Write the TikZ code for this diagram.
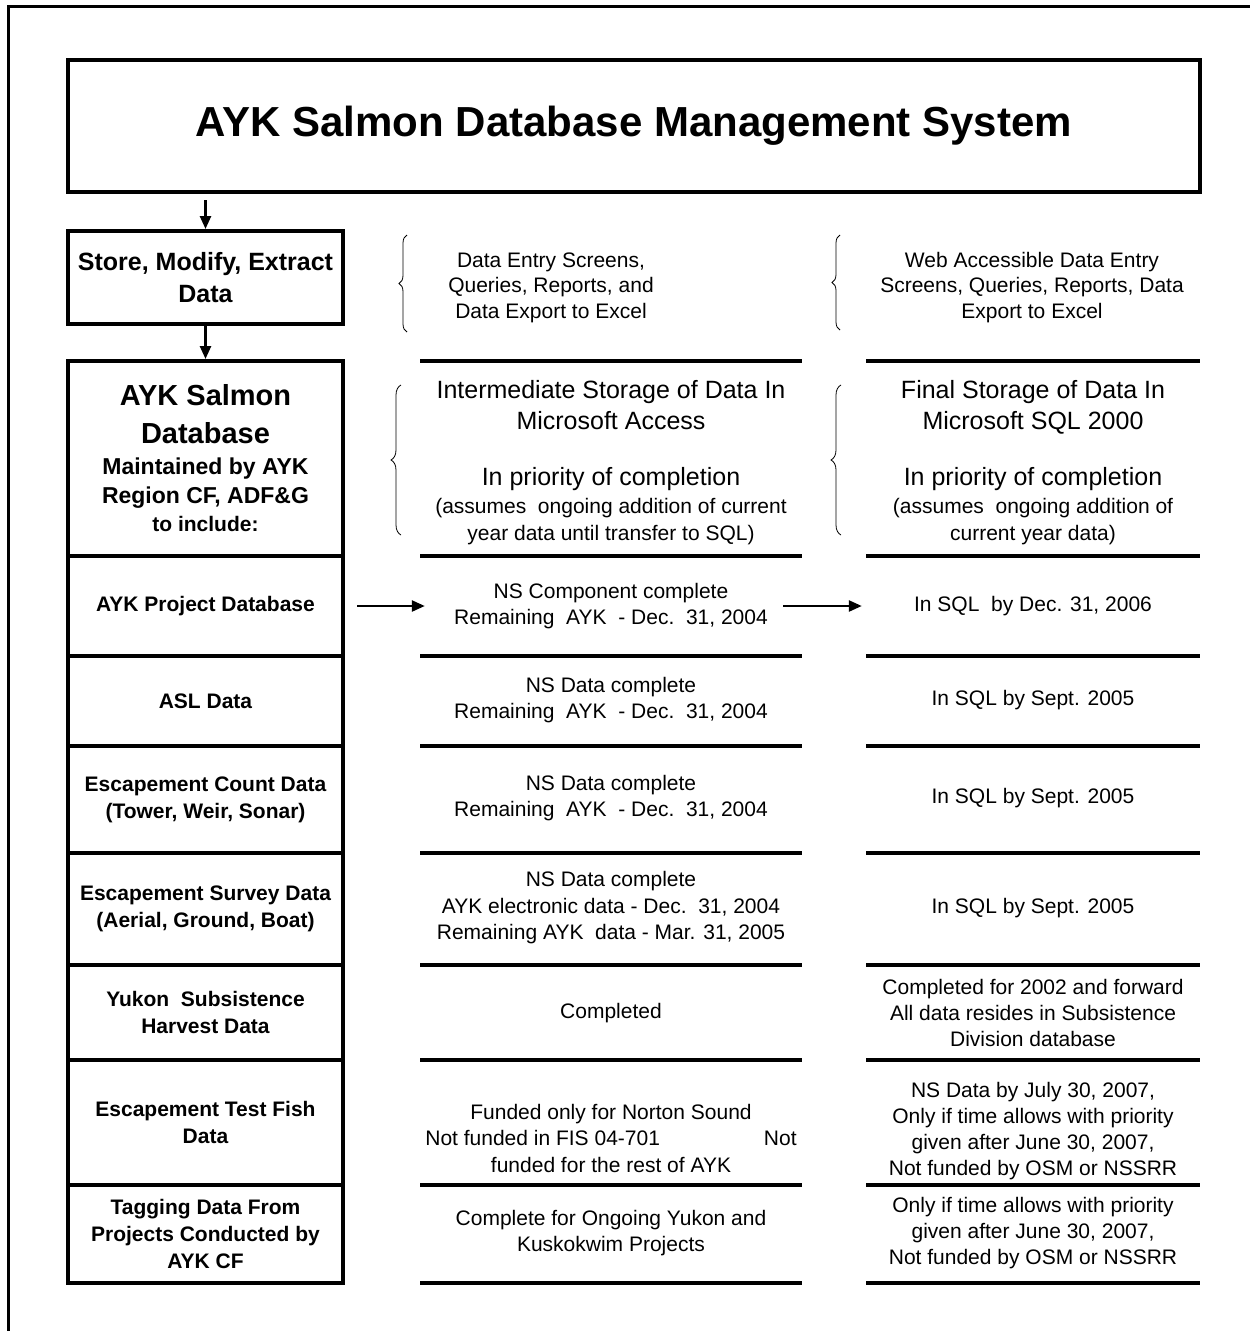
\documentclass[tikz,border=0pt]{standalone}
\usepackage{fontspec}
\setmainfont{Liberation Sans}
\usetikzlibrary{arrows.meta,decorations.pathreplacing}
\newcommand\hugetxt{\fontsize{29}{38}\selectfont}
\newcommand\maintxt{\fontsize{23}{29}\selectfont}
\newcommand\storetxt{\fontsize{25}{31}\selectfont}
\newcommand\notetxt{\fontsize{21}{27.5}\selectfont}

\begin{document}
\begin{tikzpicture}[x=1pt,y=-1pt,every text node part/.style={align=center},
  box/.style={rectangle,draw=black,line width=4pt,inner sep=0pt,minimum width=275pt,font=\bfseries\fontsize{21}{27}\selectfont},
  mid/.style={rectangle,inner sep=0pt,minimum width=382pt,font=\fontsize{21}{26.5}\selectfont},
  fin/.style={rectangle,inner sep=0pt,minimum width=334pt,font=\fontsize{21}{26}\selectfont},
  rule/.style={line width=4pt},
  arr/.style={line width=2.5pt,-{Triangle[length=13pt,width=11pt]}},
  curly/.style={line width=0.8pt,decorate,decoration={brace,amplitude=8pt}}]
  \useasboundingbox (0,0) rectangle (1250,1331);
  \draw[line width=3pt] (8,1345) -- (8,6) -- (1265,6);

  \node[box,minimum width=1132pt,minimum height=132pt,font=\bfseries\fontsize{42}{50}\selectfont] (title) at (634,126) {AYK Salmon Database Management System};
  \node[box,minimum height=93pt,font=\bfseries\fontsize{25}{32}\selectfont] (store) at (205.5,277.5) {Store, Modify, Extract\\Data};
  \node[box,minimum height=195pt] (salmondb) at (205.5,458.5) {\hugetxt AYK Salmon\\[11pt]\hugetxt Database\\[4pt]\maintxt Maintained by AYK\\[2pt]\maintxt Region CF, ADF\&G\\[1pt]to include:};
  \node[box,minimum height=100pt] (projdb) at (205.5,606) {AYK Project Database};
  \node[box,minimum height=90pt] (asl) at (205.5,701) {ASL Data};
  \node[box,minimum height=107pt] (count) at (205.5,799.5) {Escapement Count Data\\(Tower, Weir, Sonar)};
  \node[box,minimum height=112pt] (survey) at (205.5,909) {Escapement Survey Data\\(Aerial, Ground, Boat)};
  \node[box,minimum height=95pt] (yukon) at (205.5,1012.5) {Yukon\ \ Subsistence\\Harvest Data};
  \node[box,minimum height=125pt] (testfish) at (205.5,1122.5) {Escapement Test Fish\\Data};
  \node[box,minimum height=98pt] (tagging) at (205.5,1234) {Tagging Data From\\Projects Conducted by\\AYK CF};

  \node[mid,font=\fontsize{21}{25.5}\selectfont] (accesstools) at (551,287.5) {Data Entry Screens,\\Queries, Reports, and\\Data Export to Excel};
  \node[fin,font=\fontsize{21}{25.5}\selectfont] (webtools) at (1032,287.5) {Web Accessible Data Entry\\Screens, Queries, Reports, Data\\Export to Excel};
  \node[mid] (access) at (611,463) {\storetxt Intermediate Storage of Data In\\[4.5pt]\storetxt Microsoft Access\\[29.5pt]\storetxt In priority of completion\\[1.5pt]\notetxt (assumes\ \ ongoing addition of current\\[0.5pt]\notetxt year data until transfer to SQL)};
  \node[fin] (sqlserver) at (1033,463) {\storetxt Final Storage of Data In\\[5pt]\storetxt Microsoft SQL 2000\\[30pt]\storetxt In priority of completion\\[2pt]\notetxt (assumes\ \ ongoing addition of\\[1pt]\notetxt current year data)};

  \node[mid] (projaccess) at (611,606) {NS Component complete\\Remaining\ \ AYK\ \ - Dec.\ \ 31, 2004};
  \node[fin] (projsql) at (1033,606) {In SQL\ \ by Dec. 31, 2006};
  \node[mid] (aslaccess) at (611,700) {NS Data complete\\Remaining\ \ AYK\ \ - Dec.\ \ 31, 2004};
  \node[fin] (aslsql) at (1033,700) {In SQL by Sept. 2005};
  \node[mid] (countaccess) at (611,798) {NS Data complete\\Remaining\ \ AYK\ \ - Dec.\ \ 31, 2004};
  \node[fin] (countsql) at (1033,798) {In SQL by Sept. 2005};
  \node[mid] (surveyaccess) at (611,908) {NS Data complete\\AYK electronic data - Dec.\ \ 31, 2004\\Remaining AYK\ \ data - Mar. 31, 2005};
  \node[fin] (surveysql) at (1033,908) {In SQL by Sept. 2005};
  \node[mid] (yukonaccess) at (611,1013) {Completed};
  \node[fin] (yukonsql) at (1033,1013) {Completed for 2002 and forward\\All data resides in Subsistence\\Division database};
  \node[mid] (testaccess) at (611,1138) {Funded only for Norton Sound\\Not funded in FIS 04-701\hspace{104pt}Not\\funded for the rest of AYK};
  \node[fin] (testsql) at (1033,1131) {NS Data by July 30, 2007,\\Only if time allows with priority\\given after June 30, 2007,\\Not funded by OSM or NSSRR};
  \node[mid] (tagaccess) at (611,1233) {Complete for Ongoing Yukon and\\Kuskokwim Projects};
  \node[fin] (tagsql) at (1033,1233) {Only if time allows with priority\\given after June 30, 2007,\\Not funded by OSM or NSSRR};

  \draw[arr,shorten <=6pt] (store.north |- title.south) -- (store.north);
  \draw[arr] (store.south) -- (salmondb.north);
  \draw[arr] ([xshift=12pt]projdb.east) -- ([xshift=5pt]projaccess.west);
  \draw[arr] ([xshift=-19pt]projaccess.east) -- ([xshift=-4pt]projsql.west);

  \draw[rule] (420,361) -- (802,361) (866,361) -- (1200,361)
              (420,556) -- (802,556) (866,556) -- (1200,556)
              (420,656) -- (802,656) (866,656) -- (1200,656)
              (420,746) -- (802,746) (866,746) -- (1200,746)
              (420,853) -- (802,853) (866,853) -- (1200,853)
              (420,965) -- (802,965) (866,965) -- (1200,965)
              (420,1060) -- (802,1060) (866,1060) -- (1200,1060)
              (420,1185) -- (802,1185) (866,1185) -- (1200,1185)
              (420,1283) -- (802,1283) (866,1283) -- (1200,1283);

  \draw[curly] (407,332) -- (407,235);
  \draw[curly] (840,330) -- (840,235);
  \draw[curly,decoration={brace,amplitude=10pt}] (401,535) -- (401,385);
  \draw[curly,decoration={brace,amplitude=10pt}] (841,535) -- (841,385);
\end{tikzpicture}
\end{document}
